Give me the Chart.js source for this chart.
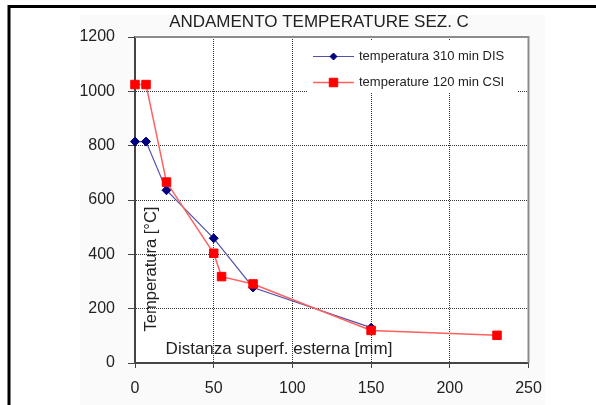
<!DOCTYPE html>
<html>
<head>
<meta charset="utf-8">
<script src="https://cdn.jsdelivr.net/npm/chart.js@4/dist/chart.umd.min.js"></script>
<style>
  html, body { margin: 0; padding: 0; background: #ffffff; }
  #wrap { position: relative; width: 596px; height: 405px; }
</style>
</head>
<body>
<div id="wrap"><canvas id="c" width="596" height="405"></canvas></div>
<script>
const chartTitle = "ANDAMENTO TEMPERATURE SEZ. C";
const yTitle = "Temperatura [°C]";
const xTitle = "Distanza superf. esterna [mm]";
const seriesNames = ["temperatura 310 min DIS", "temperature 120 min CSI"];

const distBlue = [0, 7, 20, 50, 75, 150];
const temp310 = [815, 815, 636, 459, 278, 130];

const distRed = [0, 7, 20, 50, 55, 75, 150, 230];
const temp120 = [1025, 1025, 666, 404, 318, 291, 120, 102];

const xTicks = [0, 50, 100, 150, 200, 250];
const yTicks = [0, 200, 400, 600, 800, 1000, 1200];

const FONT = "'Liberation Sans', Arial, sans-serif";

const toPoints = (xs, ys) => xs.map((x, i) => ({ x: x, y: ys[i] }));

const framePlugin = {
  id: 'frame',
  beforeDraw(chart) {
    const ctx = chart.ctx;
    const a = chart.chartArea;
    ctx.save();
    ctx.fillStyle = '#ffffff';
    ctx.fillRect(0, 0, chart.width, chart.height);
    ctx.fillStyle = '#fafafa';
    ctx.fillRect(80, 15, 465, 390);
    ctx.fillStyle = '#ffffff';
    ctx.fillRect(a.left, a.top, a.right - a.left, a.bottom - a.top);
    ctx.strokeStyle = '#000000';
    ctx.lineWidth = 3;
    ctx.beginPath();
    ctx.moveTo(9, 405);
    ctx.lineTo(9, 6.5);
    ctx.lineTo(596, 6.5);
    ctx.stroke();
    ctx.restore();
  },
  beforeDatasetsDraw(chart) {
    const ctx = chart.ctx;
    const a = chart.chartArea;
    ctx.save();
    ctx.strokeStyle = '#8c8c8c';
    ctx.lineWidth = 2;
    ctx.beginPath();
    ctx.moveTo(a.left, a.top);
    ctx.lineTo(a.right, a.top);
    ctx.lineTo(a.right, a.bottom);
    ctx.stroke();

    // legend box hides the grid
    ctx.fillStyle = '#ffffff';
    ctx.fillRect(a.left + 173, a.top + 4, 210, 52);
    ctx.restore();
  },
  afterDatasetsDraw(chart) {
    const ctx = chart.ctx;
    const a = chart.chartArea;
    ctx.save();
    const ds = chart.data.datasets;
    const rows = [a.top + 19.5, a.top + 45.5];
    ctx.font = '13px ' + FONT;
    ctx.textBaseline = 'middle';
    ctx.textAlign = 'left';
    for (let i = 0; i < 2; i++) {
      const d = ds[i];
      const y = rows[i];
      ctx.strokeStyle = d.borderColor;
      ctx.lineWidth = d.borderWidth;
      ctx.beginPath();
      ctx.moveTo(a.left + 178, y);
      ctx.lineTo(a.left + 219, y);
      ctx.stroke();
      ctx.fillStyle = d.pointBackgroundColor;
      ctx.strokeStyle = d.pointBorderColor;
      ctx.lineWidth = 1;
      Chart.helpers.drawPoint(ctx, {
        pointStyle: d.pointStyle,
        radius: d.legendRadius,
        borderWidth: 1,
        rotation: 0
      }, a.left + 198.5, y);
      ctx.fillStyle = '#222222';
      ctx.fillText(d.label, a.left + 224, y);
    }

    ctx.fillStyle = '#222222';
    ctx.font = '17px ' + FONT;
    ctx.textAlign = 'center';
    ctx.textBaseline = 'middle';
    ctx.fillText(xTitle, a.left + 144, a.bottom - 14);
    ctx.save();
    ctx.translate(a.left + 16, a.top + 232);
    ctx.rotate(-Math.PI / 2);
    ctx.font = '16.5px ' + FONT;
    ctx.fillText(yTitle, 0, 0);
    ctx.restore();
    ctx.restore();
  }
};

new Chart(document.getElementById('c'), {
  type: 'scatter',
  data: {
    datasets: [
      {
        label: seriesNames[0],
        data: toPoints(distBlue, temp310),
        showLine: true,
        clip: false,
        borderColor: '#5252a8',
        borderWidth: 1.2,
        pointStyle: 'rectRot',
        pointRadius: 4.5,
        legendRadius: 3.5,
        pointHoverRadius: 4.5,
        pointBackgroundColor: '#000080',
        pointBorderColor: '#000080',
        pointBorderWidth: 1,
        order: 1
      },
      {
        label: seriesNames[1],
        data: toPoints(distRed, temp120),
        showLine: true,
        clip: false,
        borderColor: '#ff6060',
        borderWidth: 1.5,
        pointStyle: 'rect',
        pointRadius: 6,
        legendRadius: 6,
        pointHoverRadius: 6,
        pointBackgroundColor: '#ff0000',
        pointBorderColor: '#ff0000',
        pointBorderWidth: 1,
        order: 0
      }
    ]
  },
  options: {
    responsive: false,
    animation: false,
    devicePixelRatio: 1,
    layout: { padding: { left: 42, right: 0, top: 0, bottom: 0 } },
    plugins: {
      legend: { display: false },
      tooltip: { enabled: false },
      title: {
        display: true,
        text: chartTitle,
        color: '#222222',
        font: { family: FONT, size: 17, weight: 'normal', lineHeight: 1.2 },
        padding: { top: 12.5, bottom: 4.1 }
      }
    },
    scales: {
      x: {
        type: 'linear',
        min: 0, max: 250,
        afterBuildTicks: (s) => { s.ticks = xTicks.map(v => ({ value: v })); },
        afterFit: (s) => { s.height = 42; },
        ticks: { color: '#222222', font: { family: FONT, size: 16 }, padding: 11, maxRotation: 0, autoSkip: false,
                 callback: (v) => String(v) },
        grid: { color: '#333333', lineWidth: 1, tickLength: 5, tickColor: '#444444' },
        border: { display: true, color: '#444444', width: 2, dash: [1, 1] }
      },
      y: {
        type: 'linear',
        min: 0, max: 1200,
        afterBuildTicks: (s) => { s.ticks = yTicks.map(v => ({ value: v })); },
        afterFit: (s) => { s.width = 93; },
        ticks: { color: '#222222', font: { family: FONT, size: 16 }, padding: 13, autoSkip: false,
                 callback: (v) => String(v) },
        grid: { color: '#333333', lineWidth: 1, tickLength: 7, tickColor: '#444444' },
        border: { display: true, color: '#444444', width: 2, dash: [1, 1] }
      },
      yRightSpace: {
        type: 'linear',
        axis: 'y',
        position: 'right',
        min: 0, max: 1200,
        afterFit: (s) => { s.width = 67.5; },
        ticks: { display: false },
        grid: { display: false, drawOnChartArea: false },
        border: { display: false }
      }
    }
  },
  plugins: [framePlugin]
});
</script>
</body>
</html>
